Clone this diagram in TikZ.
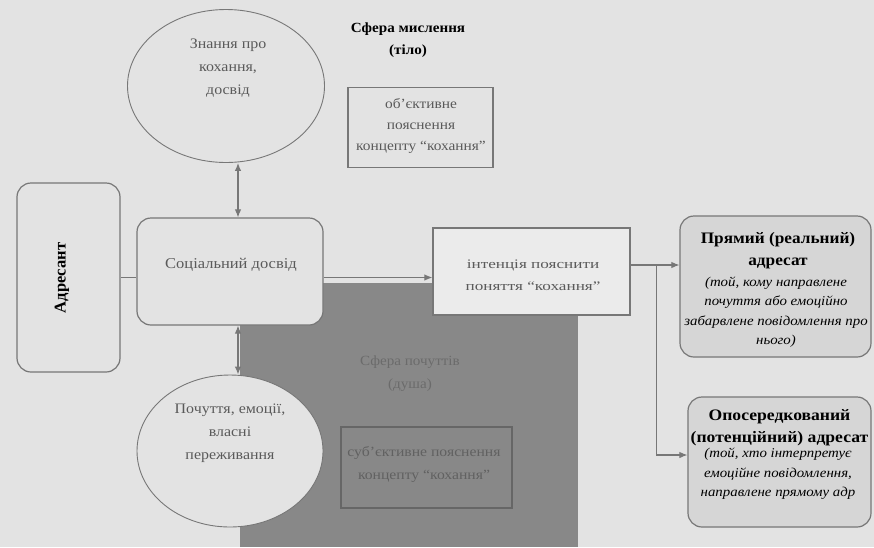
\documentclass[tikz,border=0pt]{standalone}
\usepackage{fontspec}
\setmainfont{Liberation Serif}
\usetikzlibrary{shapes.geometric,arrows.meta,calc}
\definecolor{paper}{HTML}{E3E3E3}
\definecolor{darkzone}{HTML}{888888}
\definecolor{boxfill}{HTML}{D6D6D6}
\definecolor{intfill}{HTML}{EBEBEB}
\definecolor{lin}{HTML}{777777}
\definecolor{txtgray}{HTML}{5A5A5A}
\tikzset{
  ell/.style={ellipse, draw=lin, line width=0.9pt, fill=paper, inner sep=0pt},
  rbox/.style={rectangle, rounded corners=14pt, draw=lin, line width=1.2pt, inner sep=0pt},
  sbox/.style={rectangle, draw=lin, line width=1.3pt, inner sep=0pt},
  ln/.style={draw=lin, line width=1.1pt},
  arr/.style={draw=lin, line width=1.1pt, -{Latex[length=8pt,width=6.5pt]}},
  dbl/.style={draw=lin, line width=1.1pt, {Latex[length=8pt,width=6.5pt]}-{Latex[length=8pt,width=6.5pt]}},
  gtxt/.style={align=center, text=txtgray, xscale=1.1, font=\fontsize{14.5}{23}\selectfont},
  headtxt/.style={align=center, xscale=1.1, font=\fontsize{16}{22}\selectfont\bfseries},
  ittxt/.style={align=center, xscale=1.1, font=\fontsize{13.5}{19.5}\selectfont\itshape},
}
\begin{document}
\begin{tikzpicture}[x=1pt,y=-1pt]
\useasboundingbox (0,0) rectangle (874,547);
\fill[paper] (0,0) rectangle (874,547);
% dark zone (sphere of feelings)
\fill[darkzone] (240,283) rectangle (578,547);

% upper ellipse
\node[ell, minimum width=197pt, minimum height=153pt] (know) at (226,86) {};
\node[gtxt] (knowtxt) at (228,68) {Знання про\\кохання,\\досвід};

% social experience
\node[rbox, fill=paper, minimum width=186pt, minimum height=107pt] (soc) at (230,271.5) {};
\node[gtxt, font=\fontsize{15}{17}\selectfont] (soctxt) at (231,265) {Соціальний досвід};

% addresser
\node[rbox, fill=paper, minimum width=103pt, minimum height=189pt] (adr) at (68.5,277.5) {};
\node[rotate=90, font=\fontsize{16.5}{18}\selectfont\bfseries] (adrtxt) at (62,278) {Адресант};

% lower ellipse
\node[ell, minimum width=186pt, minimum height=152pt] (feel) at (230,451) {};
\node[gtxt] (feeltxt) at (230,433) {Почуття, емоції,\\власні\\переживання};

% sphere of thinking
\node[align=center, xscale=1.08, font=\fontsize{14}{22}\selectfont\bfseries] (think) at (408,40) {Сфера мислення\\(тіло)};

% objective explanation
\node[sbox, minimum width=145pt, minimum height=80pt] (obj) at (420.5,127.5) {};
\node[gtxt, xscale=1, font=\fontsize{14}{21}\selectfont] (objtxt) at (421,126) {об'єктивне\\пояснення\\концепту “кохання”};

% intention
\node[sbox, fill=intfill, minimum width=197pt, minimum height=87pt] (int) at (531.5,271.5) {};
\node[gtxt, xscale=1.2, font=\fontsize{13}{21.5}\selectfont] (inttxt) at (533,275) {інтенція пояснити\\поняття “кохання”};

% sphere of feelings
\node[align=center, text=black!58, xscale=1.08, font=\fontsize{14}{23}\selectfont] (feelsph) at (410,374) {Сфера почуттів\\(душа)};

% subjective explanation
\node[sbox, draw=black!60, line width=1.6pt, minimum width=171pt, minimum height=81pt] (subj) at (426.5,467.5) {};
\node[align=center, text=black!62, xscale=1.12, font=\fontsize{14}{23}\selectfont] (subjtxt) at (424,464) {суб'єктивне пояснення\\концепту “кохання”};

% direct addressee
\node[rbox, fill=boxfill, minimum width=191pt, minimum height=141pt] (direct) at (775.5,286.5) {};
\node[headtxt, xscale=0.98] (dirhead) at (778,251) {Прямий (реальний)\\адресат};
\node[ittxt] (dirit) at (776,312) {(той, кому направлене\\почуття або емоційно\\забарвлене повідомлення про\\нього)};

% indirect addressee
\node[rbox, fill=boxfill, minimum width=183pt, minimum height=130pt] (indirect) at (779.5,462) {};
\node[headtxt, xscale=1, font=\fontsize{16}{22.5}\selectfont\bfseries] (indhead) at (779.5,427.5) {Опосередкований\\(потенційний) адресат};
\node[ittxt] (indit) at (778,474) {(той, хто інтерпретує\\емоційне повідомлення,\\направлене прямому адр};

% connectors
\draw[dbl] ([xshift=8pt]soc.north) -- ([xshift=8pt]soc.north |- know.south);
\draw[dbl] ([xshift=8pt]soc.south) -- ([xshift=8pt]soc.south |- feel.north);
\draw[ln] (adr.east) -- (adr.east -| soc.west);
\draw[arr] (adr.east -| soc.east) -- (adr.east -| int.west);
\coordinate (outp) at ([yshift=6.5pt]int.east);
\draw[arr] (outp) -- (outp -| direct.west);
\coordinate (br) at ($(outp)+(26,0)$);
\draw[arr] (br) |- ([yshift=7pt]indirect.west);
\end{tikzpicture}
\end{document}
